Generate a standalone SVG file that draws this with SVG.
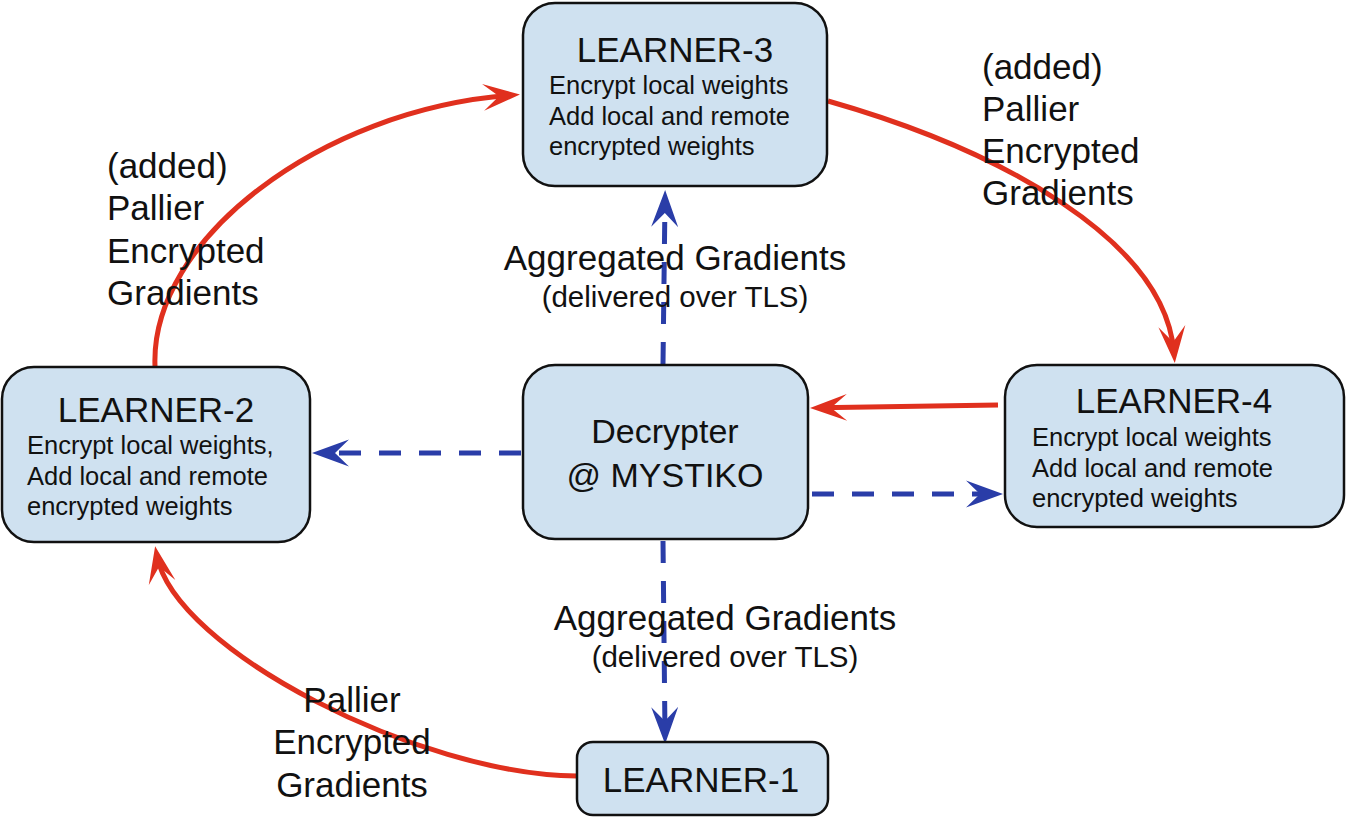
<svg xmlns="http://www.w3.org/2000/svg" width="1346" height="825" viewBox="0 0 1346 825">
<style>
.box{fill:#cfe1f0;stroke:#111;stroke-width:2.5}
.title{font-family:"Liberation Sans",Arial,sans-serif;font-size:35px;fill:#111;text-anchor:middle}
.body{font-family:"Liberation Sans",Arial,sans-serif;font-size:25.5px;fill:#111}
.dec{font-family:"Liberation Sans",Arial,sans-serif;font-size:34px;fill:#111;text-anchor:middle}
.lbl{font-family:"Liberation Sans",Arial,sans-serif;font-size:35px;fill:#111}
.lblc{font-family:"Liberation Sans",Arial,sans-serif;font-size:35px;fill:#111;text-anchor:middle}
.sub{font-family:"Liberation Sans",Arial,sans-serif;font-size:29.5px;fill:#111;text-anchor:middle}
.red{fill:none;stroke:#e0301e;stroke-width:5;marker-end:url(#ar)}
.blue{fill:none;stroke:#2a3da8;stroke-width:5;stroke-dasharray:22 18;marker-end:url(#ab)}
</style>
<defs>
<marker id="ar" markerUnits="userSpaceOnUse" markerWidth="40" markerHeight="30" viewBox="0 -15 40 30" refX="27" refY="0" orient="auto" overflow="visible">
<path d="M0,-13.5 L37,0 L0,13.5 L16,0 Z" fill="#e0301e"/>
</marker>
<marker id="ab" markerUnits="userSpaceOnUse" markerWidth="40" markerHeight="30" viewBox="0 -15 40 30" refX="27" refY="0" orient="auto" overflow="visible">
<path d="M0,-13.5 L37,0 L0,13.5 L14,0 Z" fill="#2a3da8"/>
</marker>
</defs>
<g id="connectors">
<path class="red" d="M577,776 C420,775 175,650 157,556"/>
<path class="red" d="M155,366 C150,240 320,110 510,95.3"/>
<path class="red" d="M828,101 C1000,150 1165,240 1174,353"/>
<path class="red" d="M998,405 L820,407.8"/>
<path class="blue" d="M663,364 L665,200"/>
<path class="blue" d="M521,453 L322,453"/>
<path class="blue" d="M812,494 L993,494"/>
<path class="blue" d="M663,541 L665,734"/>
</g>
<g id="learner-3">
<rect class="box" x="523" y="3" width="304" height="183" rx="32"/>
<text class="title" x="675" y="62">LEARNER-3</text>
<text class="body" x="549" y="94">Encrypt local weights</text>
<text class="body" x="549" y="125">Add local and remote</text>
<text class="body" x="549" y="155">encrypted weights</text>
</g>
<g id="learner-2">
<rect class="box" x="2" y="367" width="308" height="175" rx="32"/>
<text class="title" x="156" y="422">LEARNER-2</text>
<text class="body" x="27" y="454">Encrypt local weights,</text>
<text class="body" x="27" y="485">Add local and remote</text>
<text class="body" x="27" y="515">encrypted weights</text>
</g>
<g id="decrypter">
<rect class="box" x="523" y="365" width="285" height="174" rx="32"/>
<text class="dec" x="665" y="443">Decrypter</text>
<text class="dec" x="665" y="487">@ MYSTIKO</text>
</g>
<g id="learner-4">
<rect class="box" x="1005" y="365" width="339" height="162" rx="32"/>
<text class="title" x="1174" y="413">LEARNER-4</text>
<text class="body" x="1032" y="446">Encrypt local weights</text>
<text class="body" x="1032" y="477">Add local and remote</text>
<text class="body" x="1032" y="507">encrypted weights</text>
</g>
<g id="learner-1">
<rect class="box" x="577" y="742" width="251" height="73" rx="16"/>
<text class="title" x="701" y="792">LEARNER-1</text>
</g>
<g id="labels">
<text class="lblc" x="675" y="270">Aggregated Gradients</text>
<text class="sub" x="675" y="307">(delivered over TLS)</text>
<text class="lblc" x="725" y="630">Aggregated Gradients</text>
<text class="sub" x="725" y="667">(delivered over TLS)</text>
<text class="lbl" x="107" y="178">(added)</text>
<text class="lbl" x="107" y="220">Pallier</text>
<text class="lbl" x="107" y="263">Encrypted</text>
<text class="lbl" x="107" y="305">Gradients</text>
<text class="lbl" x="982" y="79">(added)</text>
<text class="lbl" x="982" y="121">Pallier</text>
<text class="lbl" x="982" y="163">Encrypted</text>
<text class="lbl" x="982" y="205">Gradients</text>
<text class="lblc" x="352" y="712">Pallier</text>
<text class="lblc" x="352" y="754">Encrypted</text>
<text class="lblc" x="352" y="797">Gradients</text>
</g>
</svg>
